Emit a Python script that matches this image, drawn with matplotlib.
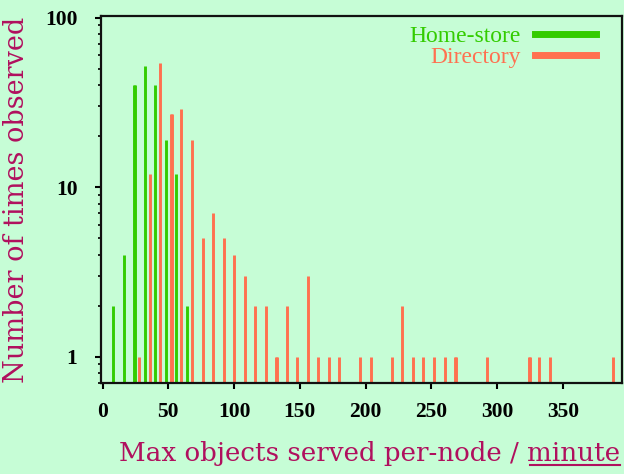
import numpy as np
import matplotlib.pyplot as plt
from matplotlib.lines import Line2D

# max objects served per node per minute -> number of times observed
home_x = [8, 16, 24, 25, 32, 40, 48, 56, 64]
home_n = [2, 4, 40, 40, 52, 40, 19, 12, 2]

dir_x = [28, 36, 44, 52, 53, 60, 68, 76, 84, 92,
         100, 108, 116, 124, 132, 133, 140, 148, 156, 164,
         172, 180, 196, 204, 220, 228, 236, 244, 252, 260,
         268, 269, 292, 324, 325, 332, 340, 388]
dir_n = [1, 12, 54, 27, 27, 29, 19, 5, 7, 5,
         4, 3, 2, 2, 1, 1, 2, 1, 3, 1,
         1, 1, 1, 1, 1, 2, 1, 1, 1, 1,
         1, 1, 1, 1, 1, 1, 1, 1]

xticks = [0, 50, 100, 150, 200, 250, 300, 350]
yticks = [1, 10, 100]

bg = '#c6fdd6'
c_home = '#33cc00'
c_dir = '#ff7050'
c_label = '#b0105e'
lab_font = 'DejaVu Serif'
xlab_size = 18.8

fig = plt.figure(figsize=(6.24, 4.74), dpi=100, facecolor=bg)
ax = fig.add_axes([0.162, 0.192, 0.835, 0.774], facecolor=bg)

ax.set_yscale('log')
ax.vlines(home_x, 0.5, home_n, colors=c_home, lw=2.1, capstyle='butt')
ax.vlines(dir_x, 0.5, dir_n, colors=c_dir, lw=2.1, capstyle='butt')

ax.set_xlim(-1.1, 395)
ax.set_ylim(0.7, 102)

ax.set_xticks(xticks)
ax.set_xticklabels([str(t) for t in xticks])
ax.set_yticks(yticks)
ax.set_yticklabels([str(t) for t in yticks])
for lab in ax.get_xticklabels() + ax.get_yticklabels():
    lab.set_fontfamily('Liberation Serif')
    lab.set_fontweight('bold')
    lab.set_fontsize(15.5)
ax.tick_params(axis='x', which='major', direction='out', length=4, width=1.5, pad=10)
ax.tick_params(axis='y', which='major', direction='out', length=4, width=1.5, pad=13)
ax.tick_params(axis='y', which='minor', direction='out', length=2.5, width=1.2)
for s in ax.spines.values():
    s.set_linewidth(1.6)
    s.set_color('#111111')

prefix = 'Max objects served per-node / '
xlab = ax.set_xlabel(prefix + 'minute', family=lab_font, fontsize=xlab_size,
                     color=c_label)
ax.xaxis.set_label_coords(0.515, -0.157)
ax.set_ylabel('Number of times observed', family=lab_font,
              fontsize=19.5, color=c_label, labelpad=11)

handles = [Line2D([], [], color=c_home, lw=5), Line2D([], [], color=c_dir, lw=5)]
leg = ax.legend(handles, ['Home-store', 'Directory'], loc='upper right',
                bbox_to_anchor=(0.950, 0.975), borderaxespad=0, borderpad=0,
                frameon=False, markerfirst=False, handlelength=2.6,
                handletextpad=0.6, labelspacing=0.0,
                alignment='right', prop={'family': 'Liberation Serif', 'size': 17})
for t, c in zip(leg.get_texts(), [c_home, c_dir]):
    t.set_color(c)
    t.set_ha('right')

# underline the word "minute" in the x label
fig.canvas.draw()
r = fig.canvas.get_renderer()
bb = xlab.get_window_extent(r)
tmp = fig.text(0, 0, prefix.rstrip() + ' ', family=lab_font, fontsize=xlab_size)
w_pre = tmp.get_window_extent(r).width
tmp.remove()
y_ul = bb.y0 + 1
fig.add_artist(Line2D([(bb.x0 + w_pre + 3) / fig.bbox.width, bb.x1 / fig.bbox.width],
                      [y_ul / fig.bbox.height] * 2, color=c_label, lw=1.5))

fig.savefig('out.png', dpi=100, facecolor=bg)
